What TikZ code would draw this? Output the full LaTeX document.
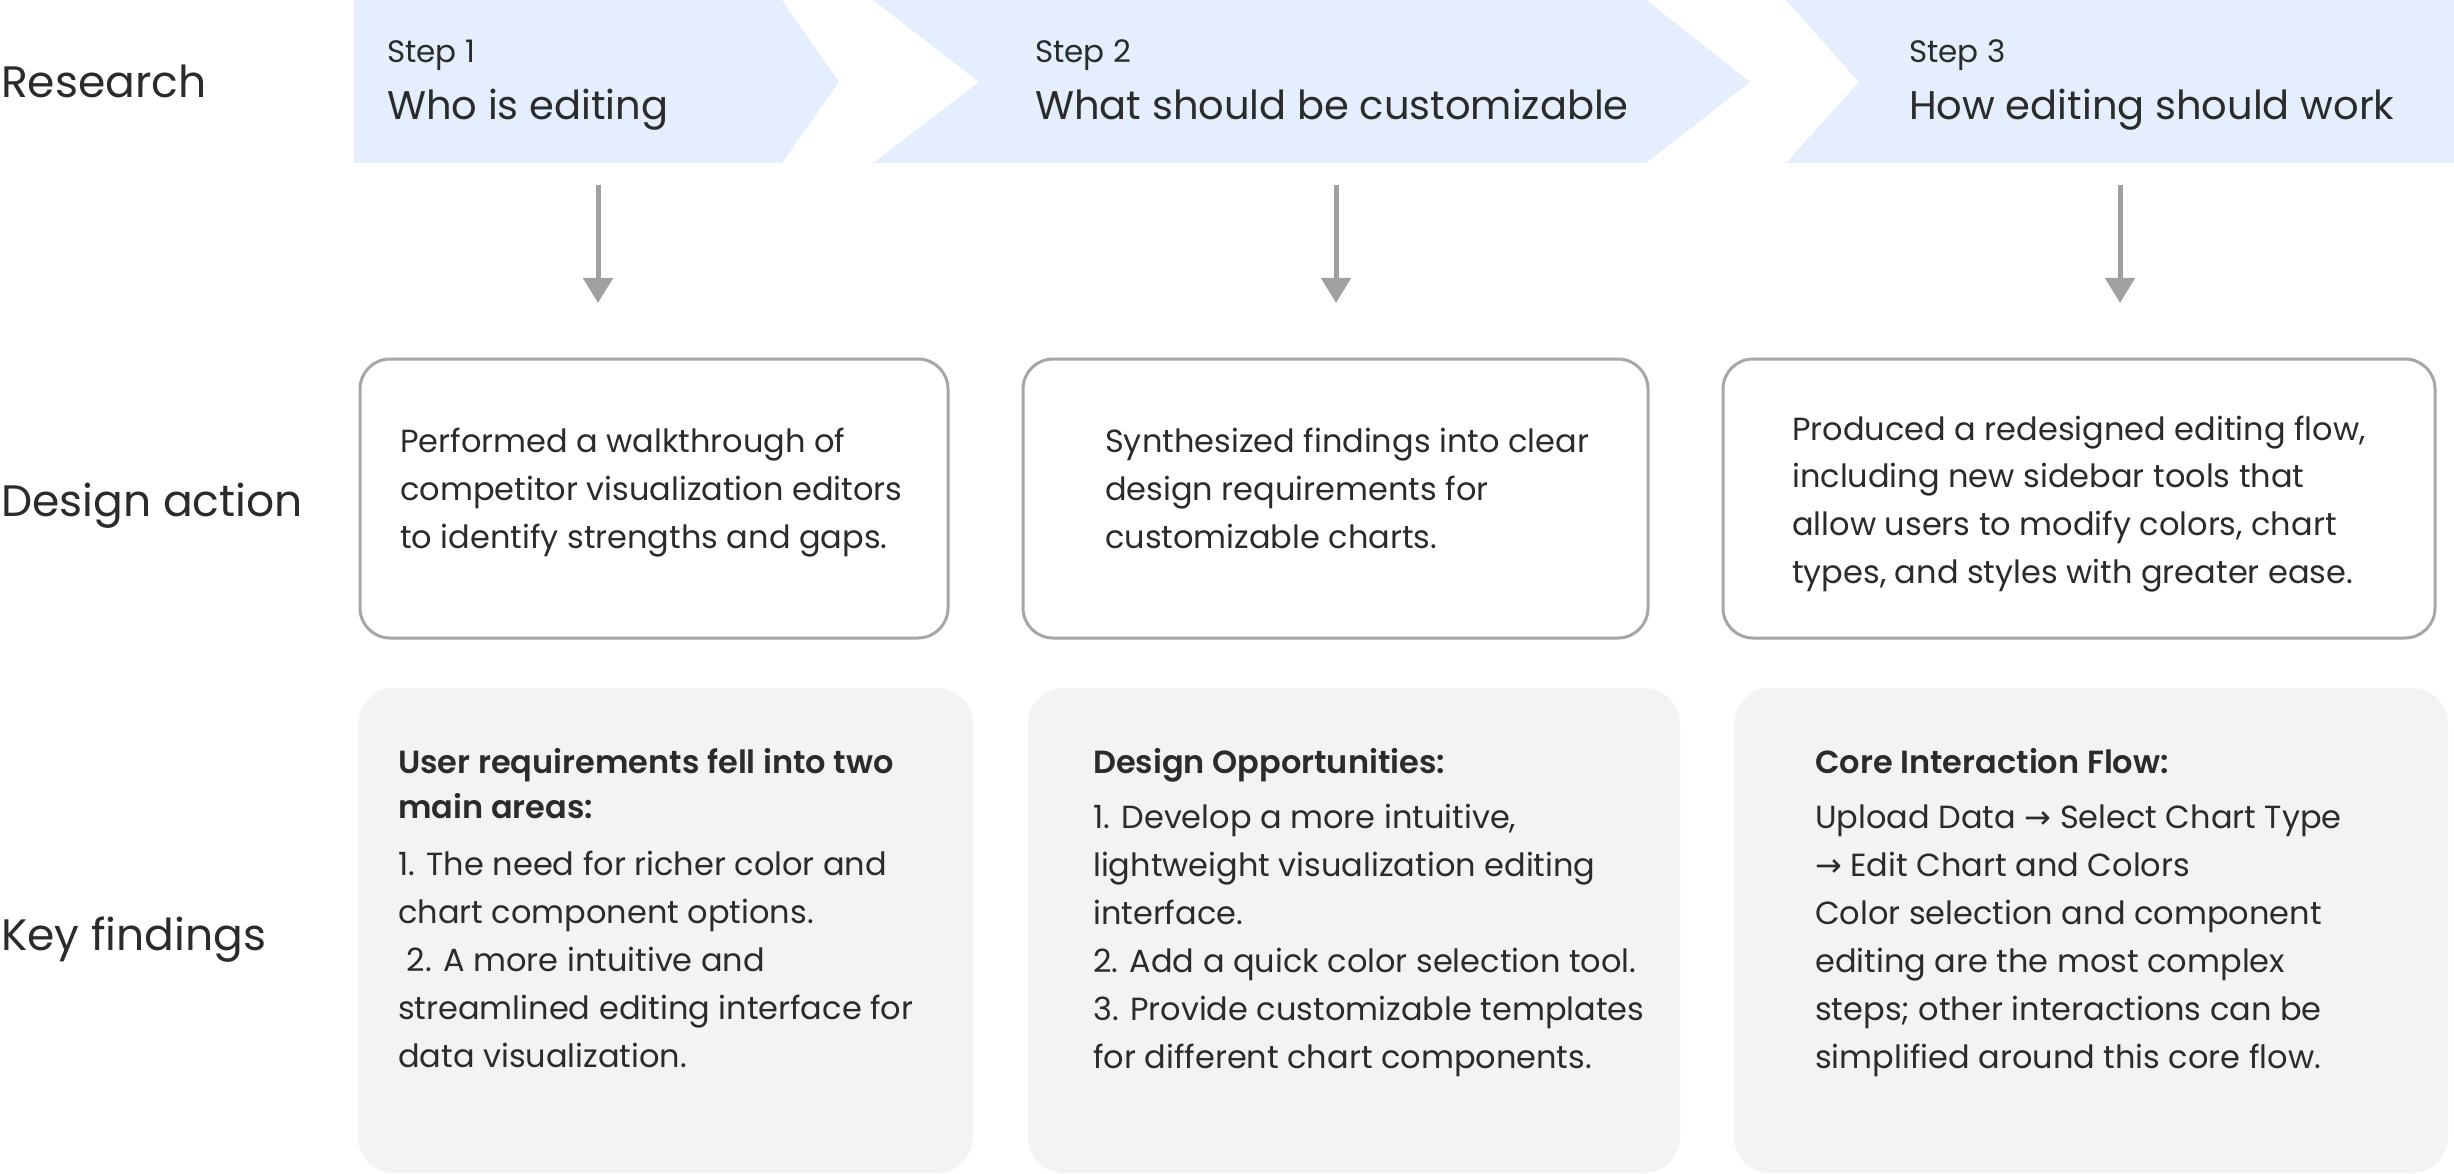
\documentclass[tikz,border=0pt]{standalone}
\usepackage{fontspec}
\IfFontExistsTF{Poppins SemiBold}{\setmainfont{Poppins}[BoldFont={Poppins SemiBold}]}{\setmainfont{Poppins}}
\newfontfamily\symfont{DejaVu Sans}
\usetikzlibrary{arrows.meta}
\definecolor{ink}{HTML}{2B2B2B}
\definecolor{chev}{HTML}{E4EEFD}
\definecolor{keyfill}{HTML}{F3F3F3}
\definecolor{edge}{HTML}{A6A6A6}
\definecolor{arrowgray}{HTML}{A0A0A0}
\newcommand\stack[2]{\vtop{\baselineskip=#1\lineskip=0pt\lineskiplimit=-1000pt\halign{##\hfil\cr#2\crcr}}}
\newcommand\ra{{\symfont\char"2192}}
\tikzset{
  rowlabel/.style={anchor=base west, inner sep=0pt, text=ink, font=\fontsize{44}{44}\selectfont},
  steplabel/.style={anchor=base west, inner sep=0pt, text=ink, font=\fontsize{31}{31}\selectfont},
  steptitle/.style={anchor=base west, inner sep=0pt, text=ink, font=\fontsize{40}{40}\selectfont},
  bodytext/.style={anchor=base west, inner sep=0pt, text=ink, font=\fontsize{32}{48}\selectfont},
  headtext/.style={anchor=base west, inner sep=0pt, text=ink, font=\fontsize{32}{45}\selectfont\bfseries},
  chevron/.style={fill=chev, draw=none},
  actionbox/.style={draw=edge, line width=3pt, fill=white, rounded corners=30pt, inner sep=0pt},
  keybox/.style={fill=keyfill, draw=none, rounded corners=36pt, inner sep=0pt},
  flow/.style={draw=arrowgray, line width=5pt, -{Triangle[length=25pt,width=29pt]}}
}
\begin{document}
\begin{tikzpicture}[x=1pt,y=-1pt]
\useasboundingbox[fill=white] (0,0) rectangle (2454,1174);
% chevrons
\path[chevron] (354,0) -- (782,0) -- (839,82) -- (782,163) -- (354,163) -- cycle;
\path[chevron] (873,0) -- (1646,0) -- (1750,82) -- (1646,163) -- (873,163) -- (979,82) -- cycle;
\path[chevron] (1786,0) -- (2454,0) -- (2454,163) -- (1786,163) -- (1859,82) -- cycle;
% row labels
\node[rowlabel] (lr) at (1,98) {Research};
\node[rowlabel] (ld) at (1,516) {Design action};
\node[rowlabel] (lk) at (1,950) {Key findings};
% step texts
\node[steplabel] (s1) at (387,63) {Step 1};
\node[steptitle] (t1) at (387,120) {Who is editing};
\node[steplabel] (s2) at (1035,63) {Step 2};
\node[steptitle] (t2) at (1035,120) {What should be customizable};
\node[steplabel] (s3) at (1909,63) {Step 3};
\node[steptitle] (t3) at (1909,120) {How editing should work};
% arrows
\coordinate (a1s) at (598,185); \coordinate (a1e) at (598,303);
\coordinate (a2s) at (1336,185); \coordinate (a2e) at (1336,303);
\coordinate (a3s) at (2120,185); \coordinate (a3e) at (2120,303);
\draw[flow] (a1s) -- (a1e);
\draw[flow] (a2s) -- (a2e);
\draw[flow] (a3s) -- (a3e);
% design action boxes
\node[actionbox, minimum width=588pt, minimum height=279pt] (d1) at (654,498.5) {};
\node[actionbox, minimum width=625pt, minimum height=279pt] (d2) at (1335.5,498.5) {};
\node[actionbox, minimum width=712pt, minimum height=279pt] (d3) at (2079,498.5) {};
\node[bodytext] (d1t) at (400,452) {\stack{48.3pt}{Performed a walkthrough of\cr competitor visualization editors\cr to identify strengths and gaps.}};
\node[bodytext] (d2t) at (1105,452) {\stack{48.3pt}{Synthesized findings into clear\cr design requirements for\cr customizable charts.}};
\node[bodytext] (d3t) at (1792,440) {\stack{47.7pt}{Produced a redesigned editing flow,\cr including new sidebar tools that\cr allow users to modify colors, chart\cr types, and styles with greater ease.}};
% key findings boxes
\node[keybox, minimum width=615pt, minimum height=485pt] (k1) at (665.5,930.5) {};
\node[keybox, minimum width=652pt, minimum height=485pt] (k2) at (1354,930.5) {};
\node[keybox, minimum width=714pt, minimum height=485pt] (k3) at (2091,930.5) {};
\node[headtext] (k1h) at (398,773) {\stack{45pt}{User requirements fell into two\cr main areas:}};
\node[bodytext] (k1t) at (398,875) {\stack{48.2pt}{1. The need for richer color and\cr chart component options.\cr \ 2. A more intuitive and\cr streamlined editing interface for\cr data visualization.}};
\node[headtext] (k2h) at (1093,773) {Design Opportunities:};
\node[bodytext] (k2t) at (1093,828) {\stack{48pt}{1. Develop a more intuitive,\cr lightweight visualization editing\cr interface.\cr 2. Add a quick color selection tool.\cr 3. Provide customizable templates\cr for different chart components.}};
\node[headtext] (k3h) at (1815,773) {Core Interaction Flow:};
\node[bodytext] (k3t) at (1815,828) {\stack{48pt}{Upload Data \ra{} Select Chart Type\cr \ra{} Edit Chart and Colors\cr Color selection and component\cr editing are the most complex\cr steps; other interactions can be\cr simplified around this core flow.}};
\end{tikzpicture}
\end{document}
